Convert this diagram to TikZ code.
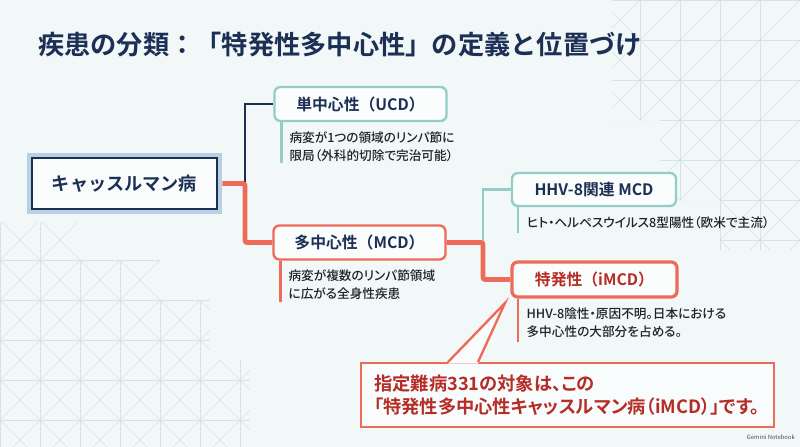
\documentclass[tikz,border=0pt]{standalone}
\usepackage{fontspec}
\setmainfont{Noto Sans CJK JP}[BoldFont=* Bold, RawFeature=+palt]
\newfontfamily\medfont{Noto Sans CJK JP Medium}[RawFeature=+palt]
\newfontfamily\widebold{Noto Sans CJK JP Bold}
\usetikzlibrary{positioning}

\definecolor{bgtint}{HTML}{F2F8F8}
\definecolor{navyink}{HTML}{1C2F55}
\definecolor{glowblue}{HTML}{B7D1E2}
\definecolor{tealline}{HTML}{94CDC8}
\definecolor{coral}{HTML}{EE6A59}
\definecolor{deepred}{HTML}{B52D26}
\definecolor{bodyink}{HTML}{1F232A}
\definecolor{latticegray}{HTML}{D5E2E8}

\tikzset{
  typebox/.style={draw, rounded corners=5pt, fill=white!70!bgtint, line width=2pt,
    minimum width=5.16cm, minimum height=1.02cm, inner sep=0pt,
    font=\widebold\fontsize{13.5}{16}\selectfont, text=navyink},
  typenote/.style={align=left, inner sep=0pt, text=bodyink,
    font=\medfont\fontsize{10.8}{15.4}\selectfont},
  notebar/.style={line width=2pt, line cap=butt},
  navylink/.style={draw=navyink, line width=2.4pt},
  coralink/.style={draw=coral, line width=4.2pt, rounded corners=2pt},
  teallink/.style={draw=tealline, line width=2.2pt},
  lattice/.style={draw=latticegray, line width=0.45pt}
}

\begin{document}
\begin{tikzpicture}[x=0.03cm, y=-0.03cm]
  \fill[bgtint] (0,0) rectangle (800,447);
  \useasboundingbox (0,0) rectangle (800,447);

  % faint lattice in two corners
  \begin{scope}
    \clip (612,0) -- (800,0) -- (800,250) -- (720,250) -- (720,200) -- (660,200)
      -- (660,120) -- (612,120) -- cycle;
    \foreach \k in {600,640,...,800} \draw[lattice] (\k,0) -- (\k,260);
    \foreach \k in {0,40,...,240} \draw[lattice] (600,\k) -- (800,\k);
    \foreach \k in {360,400,...,1080} {
      \draw[lattice] (\k,0) -- ++(-260,260);
      \draw[lattice] (\k-480,0) -- ++(260,260);
    }
  \end{scope}
  \begin{scope}
    \clip (0,222) -- (80,222) -- (80,260) -- (160,260) -- (160,300) -- (210,300)
      -- (210,360) -- (250,360) -- (250,447) -- (0,447) -- cycle;
    \foreach \k in {0,40,...,240} \draw[lattice] (\k,220) -- (\k,447);
    \foreach \k in {220,260,...,440} \draw[lattice] (0,\k) -- (250,\k);
    \foreach \k in {-240,-200,...,480} {
      \draw[lattice] (\k,220) -- ++(240,240);
      \draw[lattice] (\k,220) -- ++(-240,240);
    }
  \end{scope}

  % title
  \node[anchor=west, inner sep=0pt, text=navyink, font=\widebold\fontsize{22.4}{25}\selectfont]
    (title) at (38,45) {疾患の分類：「特発性多中心性」の定義と位置づけ};

  % root
  \node[draw=navyink, line width=2.5pt, fill=white!60!bgtint,
    preaction={draw=glowblue, line width=0.3cm},
    minimum width=5.55cm, minimum height=1.53cm, inner sep=0pt,
    text=navyink, font=\widebold\fontsize{15.5}{18}\selectfont]
    (root) at (124.5,183.5) {キャッスルマン病};

  % types
  \node[typebox, draw=tealline] (ucd) at (360.5,104) {単中心性（UCD）};
  \node[typebox, draw=coral] (mcd) at (359.5,242.5) {多中心性（MCD）};
  \node[typebox, draw=tealline, minimum width=4.92cm, minimum height=0.99cm]
    (hhv) at (594,189.5) {HHV-8関連 MCD};
  \node[typebox, draw=coral, line width=2.8pt, text=deepred,
    minimum width=4.95cm, minimum height=1.05cm]
    (imcd) at (594.5,279.5) {特発性（iMCD）};

  % notes
  \node[typenote, below right=0.27cm and 0.48cm of ucd.south west] (ucdnote)
    {病変が1つの領域のリンパ節に\\限局（外科的切除で完治可能）};
  \node[typenote, below right=0.27cm and 0.48cm of mcd.south west] (mcdnote)
    {病変が複数のリンパ節領域\\に広がる全身性疾患};
  \node[typenote, below right=0.27cm and 0.48cm of hhv.south west] (hhvnote)
    {ヒト・ヘルペスウイルス8型陽性（欧米で主流）};
  \node[typenote, below right=0.27cm and 0.48cm of imcd.south west] (imcdnote)
    {HHV-8陰性・原因不明。日本における\\多中心性の大部分を占める。};

  \draw[notebar, tealline] ([xshift=0.25cm]ucd.south west) -- ++(0,41);
  \draw[notebar, coral] ([xshift=0.25cm]mcd.south west) -- ++(0,41);
  \draw[notebar, tealline] ([xshift=0.22cm]hhv.south west) -- ++(0,26);
  \draw[notebar, coral] ([xshift=0.22cm]imcd.south west) -- ++(0,43);

  % branches
  \coordinate (fork1) at (245,183.5);
  \coordinate (fork2) at (483,242.5);
  \path[navylink] (fork1) |- (ucd.west);
  \path[coralink] ([xshift=0.12cm]root.east) -- (fork1) |- (mcd.west);
  \path[teallink] (fork2) |- (hhv.west);
  \path[coralink] (mcd.east) -- (fork2) |- (imcd.west);

  % callout
  \node[draw=coral, line width=2pt, fill=white!55!bgtint, anchor=north west,
    text width=11.61cm, minimum height=1.92cm, inner xsep=0.39cm, inner ysep=0pt,
    align=left, text=deepred, font=\bfseries\fontsize{15.6}{20.4}\selectfont]
    (note331) at (360,362)
    {指定難病331の対象は、この\\「特発性多中心性キャッスルマン病（iMCD）」です。};
  \coordinate (tip) at (505,303);
  \fill[white!55!bgtint] ([xshift=2.64cm,yshift=-1.3pt]note331.north west) -- (tip)
    -- ([xshift=3.54cm,yshift=-1.3pt]note331.north west) -- cycle;
  \draw[coral, line width=2pt, line join=miter]
    ([xshift=2.64cm]note331.north west) -- (tip) -- ([xshift=3.54cm]note331.north west);

  \node[anchor=east, inner sep=0pt, text=black!70, font=\fontsize{5}{6}\selectfont]
    (brand) at (795,437) {Gemini Notebook};
\end{tikzpicture}
\end{document}
